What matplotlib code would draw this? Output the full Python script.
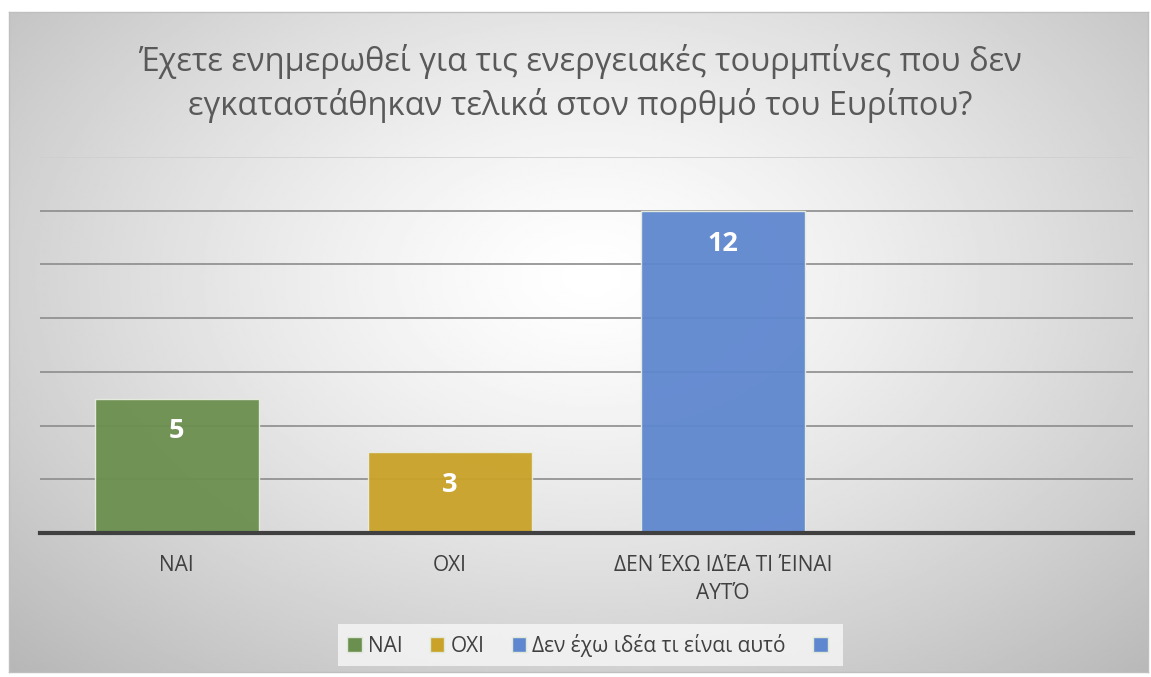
import numpy as np
import matplotlib.pyplot as plt
from matplotlib.patches import Patch

plt.rcParams['font.family'] = ['Open Sans', 'DejaVu Sans']

categories = ["ΝΑΙ", "ΟΧΙ", "ΔΕΝ ΈΧΩ ΙΔΈΑ ΤΙ ΈΙΝΑΙ\nΑΥΤΌ", ""]
values = [5, 3, 12, 0]
legend_labels = ["ΝΑΙ", "ΟΧΙ", "Δεν έχω ιδέα τι είναι αυτό", ""]
colors = ["#6b8f4e", "#c9a227", "#5f87cf", "#5f87cf"]
title = ("Έχετε ενημερωθεί για τις ενεργειακές τουρμπίνες που δεν\n"
         "εγκαταστάθηκαν τελικά στον πορθμό του Ευρίπου?")

fig = plt.figure(figsize=(11.51, 6.77), dpi=100)
fig.patch.set_facecolor("white")

# radial gradient background of the chart area
bg = fig.add_axes([0.0078, 0.0074, 0.9896, 0.9746])
yy, xx = np.mgrid[0:300, 0:500]
r = np.sqrt(((xx - 255) / 320.0) ** 2 + ((yy - 120) / 220.0) ** 2)
shade = 1.0 - 0.24 * np.clip(r, 0, 1.25) ** 1.3
bg.imshow(shade, cmap="gray", vmin=0, vmax=1, aspect="auto", interpolation="bilinear")
bg.set_xticks([])
bg.set_yticks([])
for s in bg.spines.values():
    s.set_color("#bfbfbf")
    s.set_linewidth(1)

ax = fig.add_axes([0.0348, 0.2127, 0.9496, 0.5553])
ax.patch.set_alpha(0)
x = np.arange(len(categories))
bars = ax.bar(x, values, width=0.6, color=colors, alpha=0.95,
              edgecolor="#e8eee0", linewidth=1, zorder=3)
ax.set_xlim(-0.5, len(categories) - 0.5)
ax.set_ylim(0, 14)
ax.set_yticks(np.arange(2, 15, 2))
ax.yaxis.grid(True, color="#8c8c8c", linewidth=1.2, zorder=0)
ax.get_ygridlines()[-1].set_color("#cfcfcf")
ax.tick_params(axis="y", left=False, labelleft=False)
ax.tick_params(axis="x", length=0, pad=16, labelsize=15, labelcolor="#404040")
ax.set_xticks(x)
ax.set_xticklabels(categories, linespacing=1.4)
for name in ["top", "right", "left"]:
    ax.spines[name].set_visible(False)
ax.spines["bottom"].set_color("#404040")
ax.spines["bottom"].set_linewidth(3)
ax.spines["bottom"].set_zorder(4)

for b, v in zip(bars[:3], values[:3]):
    ax.text(b.get_x() + b.get_width() / 2, v - 1.22, str(v), ha="center", va="center",
            color="white", fontsize=19.5, fontweight="bold", zorder=5)

fig.text(0.504, 0.876, title, ha="center", va="center", fontsize=23.5,
         color="#595959", linespacing=1.33)

handles = [Patch(facecolor=c, edgecolor="#dfe8d8") for c in colors]
leg = fig.legend(handles, legend_labels, loc="center", bbox_to_anchor=(0.513, 0.047),
                 ncol=4, frameon=True, fontsize=15, handlelength=0.7, handleheight=0.7,
                 handletextpad=0.3, columnspacing=1.3, fancybox=False, borderpad=0.45)
leg.get_frame().set_facecolor("#f7f7f7")
leg.get_frame().set_edgecolor("none")
leg.get_frame().set_alpha(0.8)
for t in leg.get_texts():
    t.set_color("#404040")

fig.savefig("out.png", dpi=100)
